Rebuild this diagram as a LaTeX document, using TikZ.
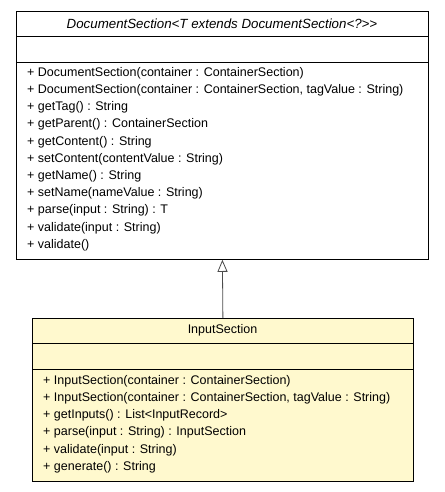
\documentclass[tikz,border=0pt]{standalone}
\usepackage{fontspec}
\setsansfont{Liberation Sans}[Ligatures=TeXOff]
\usetikzlibrary{arrows.meta,shadows}
\definecolor{classyellow}{RGB}{255,249,206}
\tikzset{
  classbox/.style={draw, line width=0.8pt, anchor=north west, inner sep=0pt,
    general shadow={shadow xshift=1pt, shadow yshift=-1pt, fill=black!40}},
  member/.style={anchor=west, inner sep=0pt, font=\sffamily\fontsize{12.5}{14}\selectfont},
  classname/.style={member, anchor=center},
}

\begin{document}
\begin{tikzpicture}[x=1pt, y=1pt]
\useasboundingbox (0,0) rectangle (444,-492);

% superclass
\node[classbox, fill=white, minimum width=412pt, minimum height=248pt] (docsec) at (16,-11) {};
\draw ([yshift=-25pt]docsec.north west) -- ([yshift=-25pt]docsec.north east);
\draw ([yshift=-51pt]docsec.north west) -- ([yshift=-51pt]docsec.north east);
\node[classname, font=\sffamily\itshape\fontsize{13.3}{15}\selectfont] (docsectitle) at (222,-23.5) {DocumentSection<T extends DocumentSection<?>>};
\foreach \m [count=\i] in {
    {+ DocumentSection(container : ContainerSection)},
    {+ DocumentSection(container : ContainerSection, tagValue : String)},
    {+ getTag() : String},
    {+ getParent() : ContainerSection},
    {+ getContent() : String},
    {+ setContent(contentValue : String)},
    {+ getName() : String},
    {+ setName(nameValue : String)},
    {+ parse(input : String) : T},
    {+ validate(input : String)},
    {+ validate()}}
{
    \node[member] (docsecm\i) at (27,{-73-17.2*(\i-1)}) {\m};
}

% subclass
\node[classbox, fill=classyellow, minimum width=381pt, minimum height=163pt] (inputsec) at (32,-318) {};
\draw ([yshift=-25pt]inputsec.north west) -- ([yshift=-25pt]inputsec.north east);
\draw ([yshift=-51pt]inputsec.north west) -- ([yshift=-51pt]inputsec.north east);
\node[classname] (inputsectitle) at (222.5,-330.5) {InputSection};
\foreach \m [count=\i] in {
    {+ InputSection(container : ContainerSection)},
    {+ InputSection(container : ContainerSection, tagValue : String)},
    {+ getInputs() : List<InputRecord>},
    {+ parse(input : String) : InputSection},
    {+ validate(input : String)},
    {+ generate() : String}}
{
    \node[member] (inputsecm\i) at (43,{-381-17.2*(\i-1)}) {\m};
}

% generalization
\draw[-{Triangle[open, length=12pt, width=10pt]}, draw=black!70, line width=0.8pt] (inputsec.north) -- (docsec.south);
\end{tikzpicture}
\end{document}
